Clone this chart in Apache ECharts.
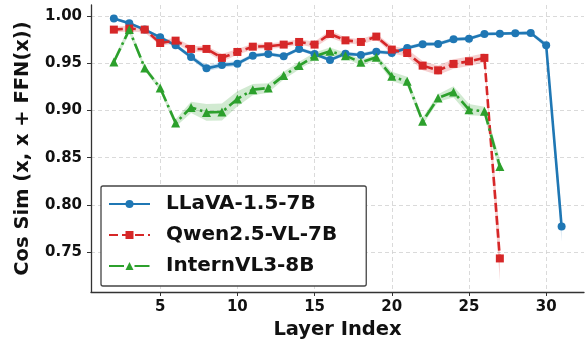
<!DOCTYPE html>
<html>
<head>
<meta charset="utf-8">
<script src="https://cdn.jsdelivr.net/npm/echarts@6/dist/echarts.min.js"></script>
<style>
html,body{margin:0;padding:0;background:#fff;}
#c{width:587px;height:345px;}
</style>
</head>
<body>
<div id="c"></div>
<script>
// ---- data ----
const layers = [2,3,4,5,6,7,8,9,10,11,12,13,14,15,16,17,18,19,20,21,22,23,24,25,26,27,28,29,30,31];
const llavaMean = [0.9976,0.9926,0.9859,0.9777,0.9692,0.9569,0.9448,0.9484,0.9498,0.9583,0.9601,0.9576,0.9654,0.9601,0.9537,0.9604,0.9590,0.9625,0.9611,0.9665,0.9705,0.9707,0.9756,0.9763,0.9813,0.9816,0.9820,0.9824,0.9692,0.7770];
const llavaStd  = [0.0015,0.0015,0.0015,0.002,0.002,0.0025,0.003,0.003,0.0025,0.002,0.002,0.002,0.002,0.002,0.002,0.002,0.002,0.002,0.002,0.002,0.002,0.002,0.002,0.002,0.0015,0.0015,0.0015,0.0015,0.003,0.016];
const qwenLayers = [2,3,4,5,6,7,8,9,10,11,12,13,14,15,16,17,18,19,20,21,22,23,24,25,26,27];
const qwenMean = [0.9859,0.9870,0.9859,0.9717,0.9742,0.9654,0.9654,0.9559,0.9622,0.9678,0.9682,0.9700,0.9728,0.9700,0.9813,0.9745,0.9728,0.9785,0.9647,0.9611,0.9477,0.9427,0.9495,0.9523,0.9559,0.7432];
const qwenStd  = [0.003,0.003,0.003,0.003,0.003,0.003,0.003,0.004,0.003,0.003,0.003,0.003,0.003,0.003,0.004,0.003,0.003,0.003,0.004,0.004,0.005,0.005,0.005,0.005,0.005,0.024];
const internLayers = qwenLayers;
const internMean = [0.9516,0.9859,0.9452,0.9240,0.8869,0.9034,0.8981,0.8985,0.9124,0.9222,0.9240,0.9371,0.9477,0.9576,0.9629,0.9583,0.9512,0.9565,0.9363,0.9310,0.8886,0.9134,0.9198,0.9010,0.8992,0.8408];
const internStd  = [0.003,0.004,0.003,0.003,0.004,0.006,0.009,0.009,0.008,0.006,0.005,0.004,0.004,0.004,0.004,0.003,0.003,0.003,0.005,0.005,0.004,0.004,0.006,0.006,0.005,0.008];
const yTicks = [0.75,0.80,0.85,0.90,0.95,1.00];
const xTicks = [5,10,15,20,25,30];
const names = ['LLaVA-1.5-7B','Qwen2.5-VL-7B','InternVL3-8B'];
const colors = ['#1f77b4','#d62728','#2ca02c'];
const bandColors = ['rgba(31,119,180,0.22)','rgba(214,39,40,0.22)','rgba(44,160,44,0.22)'];

const FONT = 'DejaVu Sans';
function pairs(xs, ys){ return xs.map((x,i)=>[x, ys[i]]); }

// shaded std band: one polygon drawn through the axis scales (api.coord)
function bandSeries(idx, xs, mean, std){
  const rows = xs.map((x,i)=>[x, mean[i]-std[i], mean[i]+std[i]]);
  return {
    type:'custom', name:'band'+idx, silent:true, z:1, clip:true, animation:false,
    data: rows,
    encode:{x:0, y:[1,2]},
    renderItem:function(params, api){
      if (params.dataIndex !== 0) return null;
      const upper = rows.map(r=>api.coord([r[0], r[2]]));
      const lower = rows.map(r=>api.coord([r[0], r[1]])).reverse();
      return {
        type:'polygon',
        shape:{points: upper.concat(lower)},
        style:{fill:bandColors[idx], stroke:null}
      };
    }
  };
}

const series = [];
series.push(bandSeries(0, layers, llavaMean, llavaStd));
series.push(bandSeries(1, qwenLayers, qwenMean, qwenStd));
series.push(bandSeries(2, internLayers, internMean, internStd));
series.push({type:'line', name:names[0], data:pairs(layers, llavaMean), symbol:'circle', symbolSize:8,
  itemStyle:{color:colors[0]}, lineStyle:{color:colors[0], width:2.6, type:'solid'}, z:3, animation:false});
series.push({type:'line', name:names[1], data:pairs(qwenLayers, qwenMean), symbol:'rect', symbolSize:8,
  itemStyle:{color:colors[1]}, lineStyle:{color:colors[1], width:2.6, type:[9,4]}, z:3, animation:false});
series.push({type:'line', name:names[2], data:pairs(internLayers, internMean), symbol:'triangle', symbolSize:9,
  itemStyle:{color:colors[2]}, lineStyle:{color:colors[2], width:2.6, type:[15,4,2.5,4]}, z:3, animation:false});

const chart = echarts.init(document.getElementById('c'), null, {renderer:'canvas'});
chart.setOption({
  backgroundColor:'#ffffff',
  animation:false,
  grid:{left:91, right:3, top:5, bottom:53, containLabel:false, outerBoundsMode:'none'},
  xAxis:{
    type:'value', min:0.52, max:32.45,
    name:'Layer Index', nameLocation:'middle', nameGap:27,
    nameTextStyle:{fontFamily:FONT, fontWeight:'bold', fontSize:19.5, color:'#111'},
    axisLine:{show:true, onZero:false, lineStyle:{color:'#333', width:1.3}},
    axisTick:{show:true, length:4, customValues:xTicks, lineStyle:{color:'#333', width:1}},
    axisLabel:{customValues:xTicks, margin:8, fontFamily:FONT, fontWeight:'bold', fontSize:15, color:'#111'},
    splitLine:{show:true, lineStyle:{color:'#d0d0d0', type:[4,3], width:0.8}}
  },
  yAxis:{
    type:'value', min:0.7076, max:1.012,
    name:'Cos Sim (x, x + FFN(x))', nameLocation:'middle', nameGap:58,
    nameTextStyle:{fontFamily:FONT, fontWeight:'bold', fontSize:19.5, color:'#111'},
    axisLine:{show:true, onZero:false, lineStyle:{color:'#333', width:1.3}},
    axisTick:{show:true, length:4, customValues:yTicks, lineStyle:{color:'#333', width:1}},
    axisLabel:{customValues:yTicks, margin:9, fontFamily:FONT, fontWeight:'bold', fontSize:15, color:'#111',
      formatter:(v)=>v.toFixed(2)},
    splitLine:{show:true, lineStyle:{color:'#d0d0d0', type:[4,3], width:0.8}}
  },
  legend:{
    data:names, orient:'vertical', left:101, top:186,
    padding:[7,29,9,7], itemGap:9, itemWidth:41, itemHeight:10,
    backgroundColor:'#ffffff', borderColor:'#444', borderWidth:1.3, borderRadius:2,
    textStyle:{fontFamily:FONT, fontWeight:'bold', fontSize:20, color:'#111', lineHeight:22, padding:[0,0,0,11]}
  },
  series:series
});
</script>
</body>
</html>
